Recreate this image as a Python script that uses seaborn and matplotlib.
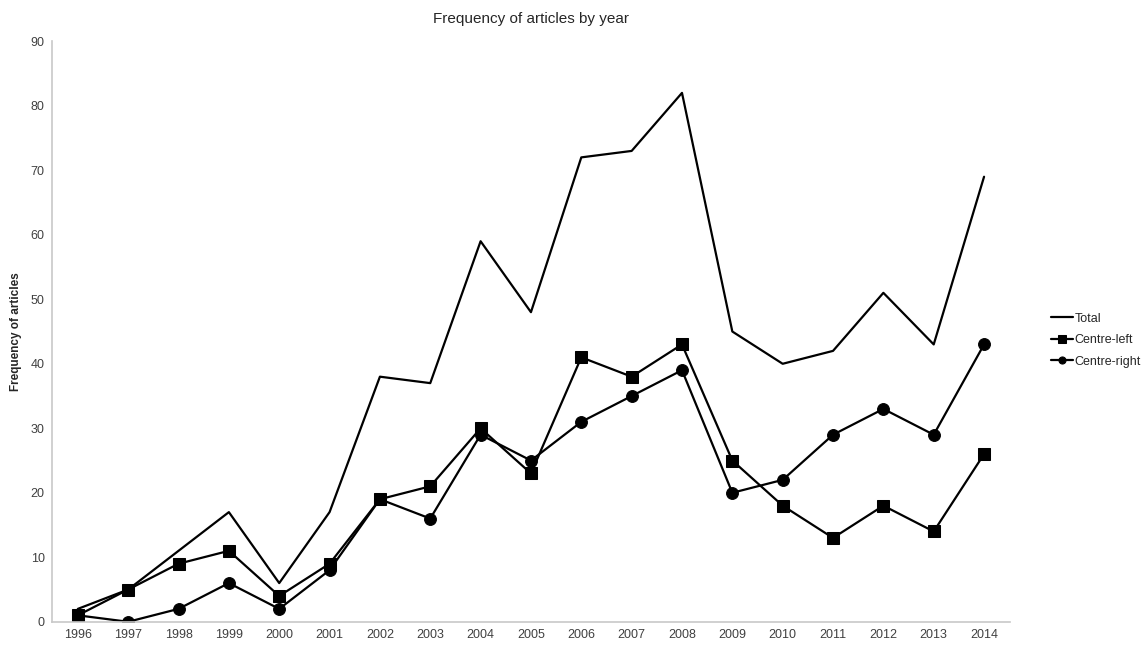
import seaborn as sns
import matplotlib.pyplot as plt
import pandas as pd

years = [str(y) for y in range(1996, 2015)]
total = [2, 5, 11, 17, 6, 17, 38, 37, 59, 48, 72, 73, 82, 45, 40, 42, 51, 43, 69]
centre_left = [1, 5, 9, 11, 4, 9, 19, 21, 30, 23, 41, 38, 43, 25, 18, 13, 18, 14, 26]
centre_right = [1, 0, 2, 6, 2, 8, 19, 16, 29, 25, 31, 35, 39, 20, 22, 29, 33, 29, 43]

sns.set_style("white")
plt.rcParams['font.family'] = ['Liberation Sans', 'DejaVu Sans']

df = pd.DataFrame({'year': years, 'Total': total,
                   'Centre-left': centre_left, 'Centre-right': centre_right})

fig = plt.figure(figsize=(11.48, 6.45), dpi=100)
ax = fig.add_axes([0.045, 0.036, 0.835, 0.9])

# linhas
sns.lineplot(data=df, x='year', y='Total', color='black', linewidth=1.6,
             label='Total', ax=ax, sort=False)
sns.lineplot(data=df, x='year', y='Centre-left', color='black', linewidth=1.6,
             marker='s', markersize=8.5, markeredgecolor='black',
             label='Centre-left', ax=ax, sort=False)
sns.lineplot(data=df, x='year', y='Centre-right', color='black', linewidth=1.6,
             marker='o', markersize=8.5, markeredgecolor='black',
             label='Centre-right', ax=ax, sort=False)

ax.set_xlim(-0.52, len(years) - 0.48)
ax.set_ylim(0, 90)
ax.set_yticks(range(0, 91, 10))
ax.set_xlabel('')
ax.set_ylabel('Frequency of articles', fontsize=8.5, fontweight='bold', labelpad=6)
ax.tick_params(axis='both', labelsize=9, labelcolor='#404040', length=0, pad=5)
ax.set_title('Frequency of articles by year', fontsize=11, pad=13)

for side in ['top', 'right']:
    ax.spines[side].set_visible(False)
for side in ['left', 'bottom']:
    ax.spines[side].set_color('#c8c8c8')
    ax.spines[side].set_linewidth(1.2)

leg = ax.legend(loc='center left', bbox_to_anchor=(1.035, 0.485), frameon=False,
                fontsize=9, handlelength=1.7, handletextpad=0.15,
                labelspacing=0.75, markerscale=0.6, borderaxespad=0.2)

fig.savefig('out.png', dpi=100)
